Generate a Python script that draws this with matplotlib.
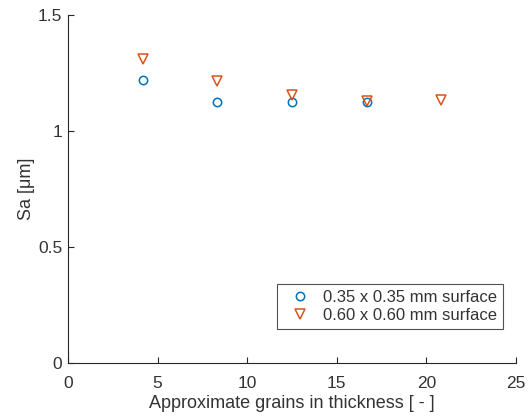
import matplotlib
matplotlib.use("Agg")
import matplotlib.pyplot as plt

plt.rcParams['font.family'] = ['Liberation Sans', 'DejaVu Sans']

x_small = [4.17, 8.33, 12.5, 16.67]
sa_small = [1.22, 1.127, 1.126, 1.126]
x_large = [4.17, 8.33, 12.5, 16.67, 20.83]
sa_large = [1.31, 1.214, 1.155, 1.129, 1.133]
labels = ['0.35 x 0.35 mm surface', '0.60 x 0.60 mm surface']
xticks = [0, 5, 10, 15, 20, 25]
yticks = [0, 0.5, 1, 1.5]

fig = plt.figure(figsize=(5.29, 4.16), dpi=100)
ax = fig.add_axes([68/529, 1-363/416, (516-68)/529, (363-15)/416])

ax.plot(x_small, sa_small, linestyle='none', marker='o', markersize=6,
        markerfacecolor='none', markeredgecolor='#0072BD', markeredgewidth=1.1, label=labels[0])
ax.plot(x_large, sa_large, linestyle='none', marker='v', markersize=7,
        markerfacecolor='none', markeredgecolor='#D95319', markeredgewidth=1.1, label=labels[1])

ax.set_xlim(0, 25)
ax.set_ylim(0, 1.5)
ax.set_xticks(xticks)
ax.set_yticks(yticks)
ax.set_xticklabels(['0', '5', '10', '15', '20', '25'])
ax.set_yticklabels(['0', '0.5', '1', '1.5'])
for s in ['top', 'right']:
    ax.spines[s].set_visible(False)
for s in ['left', 'bottom']:
    ax.spines[s].set_color('#262626')
    ax.spines[s].set_linewidth(0.8)
ax.tick_params(direction='in', length=4, width=0.8, colors='#262626', labelsize=12.5,
               labelcolor='#333333')
ax.tick_params(axis='x', pad=9)
ax.tick_params(axis='y', pad=4)
ax.set_xlabel('Approximate grains in thickness [ - ]', fontsize=13, color='#333333', labelpad=3)
ax.set_ylabel('Sa [μm]', fontsize=13, color='#333333', labelpad=2)

leg = ax.legend(loc='lower right', bbox_to_anchor=(503/529, 1-329/416), bbox_transform=fig.transFigure,
                fontsize=12, frameon=True, fancybox=False, borderpad=0.35, handletextpad=0.4,
                labelspacing=0.2, handlelength=2.0, borderaxespad=0)
leg.get_frame().set_edgecolor('#262626')
leg.get_frame().set_linewidth(0.8)
for t in leg.get_texts():
    t.set_color('#333333')

fig.savefig('out.png', dpi=100)
